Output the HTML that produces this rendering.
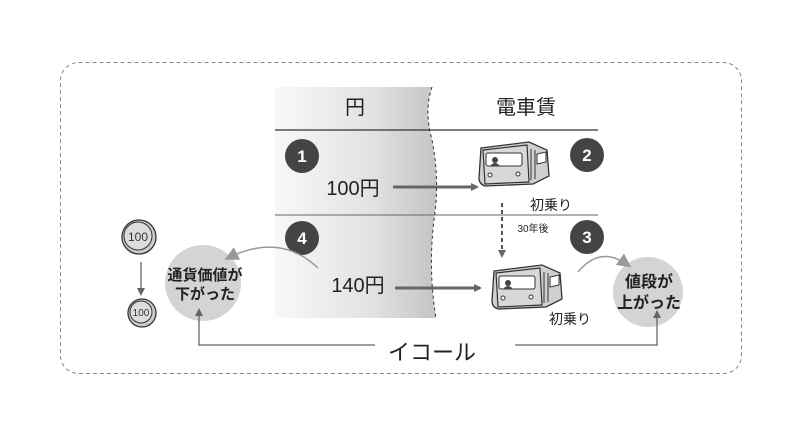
<!DOCTYPE html>
<html><head><meta charset="utf-8"><style>
body{margin:0;background:#fff;}
svg{display:block;font-family:"Liberation Sans","Noto Sans CJK JP",sans-serif;}
</style></head><body>
<svg width="806" height="438" viewBox="0 0 806 438">
<defs>
<linearGradient id="g" x1="0" x2="1"><stop offset="0" stop-color="#f8f8f8"/><stop offset="0.6" stop-color="#e2e2e2"/><stop offset="1" stop-color="#c4c4c4"/></linearGradient>
<marker id="ah" markerWidth="8" markerHeight="8" refX="6" refY="4" orient="auto" markerUnits="userSpaceOnUse"><path d="M0,0 L8,4 L0,8z" fill="#666"/></marker>
<marker id="big" markerWidth="14" markerHeight="14" refX="10" refY="7" orient="auto" markerUnits="userSpaceOnUse"><path d="M0,0 L14,7 L0,14z" fill="#999"/></marker>
<g id="train">
<path d="M4,8 L52,2 L70,10 L72,36 L56,44 L8,46 Q2,44 2,38 Z" fill="#d0d0d0" stroke="#333" stroke-width="1.3"/>
<path d="M6,10 L50,5 L52,42 L8,44 Z" fill="#d8d8d8" stroke="#333" stroke-width="1.2"/>
<rect x="9" y="13" width="36" height="13" rx="2" fill="#fff" stroke="#333"/>
<circle cx="18" cy="20" r="3" fill="#444"/><path d="M13,26 Q18,20 23,26z" fill="#444"/>
<circle cx="13" cy="35" r="2" fill="#fff" stroke="#333"/><circle cx="41" cy="34" r="2" fill="#fff" stroke="#333"/>
<path d="M54,9 L54,40 M58,10 L58,39" stroke="#333"/>
<path d="M60,14 L69,12 L69,22 L60,24z" fill="#fff" stroke="#333"/>
</g>
</defs>
<rect x="60.5" y="62.5" width="681" height="311" rx="18" fill="none" stroke="#888" stroke-dasharray="4,3"/>
<path d="M275,87 L432,87 Q424,110 432,140 Q440,180 434,220 Q428,270 436,318 L275,318z" fill="url(#g)"/>
<path d="M432,87 Q424,110 432,140 Q440,180 434,220 Q428,270 436,318" fill="none" stroke="#333" stroke-dasharray="3,3"/>
<line x1="275" y1="130" x2="598" y2="130" stroke="#333" stroke-width="1.3"/>
<line x1="275" y1="215" x2="598" y2="215" stroke="#666"/>
<text x="355" y="114" font-size="20" text-anchor="middle" fill="#222">円</text>
<text x="526" y="114" font-size="20" text-anchor="middle" fill="#222">電車賃</text>
<g font-size="17" font-weight="bold" fill="#fff" text-anchor="middle">
<circle cx="302" cy="156" r="17" fill="#444"/><text x="302" y="162">1</text>
<circle cx="587" cy="155" r="17" fill="#444"/><text x="587" y="161">2</text>
<circle cx="302" cy="238" r="17" fill="#444"/><text x="302" y="244">4</text>
<circle cx="587" cy="237" r="17" fill="#444"/><text x="587" y="243">3</text>
</g>
<text x="353" y="195" font-size="20" text-anchor="middle" fill="#222">100円</text>
<line x1="393" y1="187" x2="477" y2="187" stroke="#666" stroke-width="3" marker-end="url(#ah)"/>
<text x="358" y="292" font-size="20" text-anchor="middle" fill="#222">140円</text>
<line x1="395" y1="288" x2="480" y2="288" stroke="#666" stroke-width="3" marker-end="url(#ah)"/>
<use href="#train" x="477" y="140"/>
<use href="#train" x="490" y="263"/>
<text x="551" y="210" font-size="14" text-anchor="middle" fill="#222">初乗り</text>
<text x="570" y="324" font-size="14" text-anchor="middle" fill="#222">初乗り</text>
<text x="533" y="232" font-size="10" text-anchor="middle" fill="#222">30年後</text>
<line x1="502" y1="203" x2="502" y2="256" stroke="#555" stroke-width="2" stroke-dasharray="4,3" marker-end="url(#ah)"/>
<circle cx="203" cy="283" r="38" fill="#d4d4d4"/>
<text x="205" y="280" font-size="15" font-weight="bold" text-anchor="middle" fill="#222">通貨価値が</text>
<text x="205" y="299" font-size="15" font-weight="bold" text-anchor="middle" fill="#222">下がった</text>
<circle cx="648" cy="292" r="35" fill="#d4d4d4"/>
<text x="649" y="287" font-size="16" font-weight="bold" text-anchor="middle" fill="#222">値段が</text>
<text x="649" y="308" font-size="16" font-weight="bold" text-anchor="middle" fill="#222">上がった</text>
<path d="M318,268 Q280,232 228,258" fill="none" stroke="#999" stroke-width="1.5" marker-end="url(#big)"/>
<path d="M578,272 Q600,245 628,265" fill="none" stroke="#999" stroke-width="1.5" marker-end="url(#big)"/>
<circle cx="139" cy="237" r="17" fill="#ccc" stroke="#333" stroke-width="1.3"/><circle cx="138" cy="236" r="14" fill="#ddd" stroke="#333"/>
<text x="138" y="241" font-size="12" text-anchor="middle" fill="#333">100</text>
<circle cx="142" cy="313" r="14" fill="#ccc" stroke="#333" stroke-width="1.3"/><circle cx="141" cy="312" r="11" fill="#ddd" stroke="#333"/>
<text x="141" y="316" font-size="10" text-anchor="middle" fill="#333">100</text>
<line x1="141" y1="262" x2="141" y2="294" stroke="#666" stroke-width="1.3" marker-end="url(#ah)"/>
<path d="M375,345 L199,345 L199,310" fill="none" stroke="#666" stroke-width="1.3" marker-end="url(#ah)"/>
<path d="M515,345 L657,345 L657,312" fill="none" stroke="#666" stroke-width="1.3" marker-end="url(#ah)"/>
<text x="432" y="360" font-size="22" text-anchor="middle" fill="#222">イコール</text>
</svg>
</body></html>
